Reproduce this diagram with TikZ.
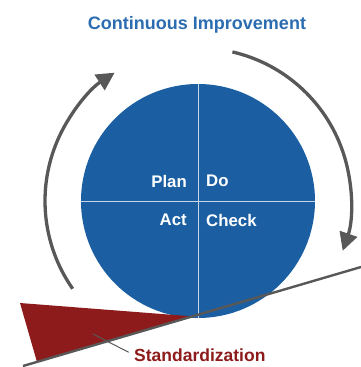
\documentclass[tikz,border=0pt]{standalone}
\usepackage{fontspec}
\setmainfont{Liberation Sans}
\usetikzlibrary{arrows.meta}
\definecolor{pdcablue}{HTML}{1B5FA2}
\definecolor{titleblue}{HTML}{2B6DB0}
\definecolor{stdred}{HTML}{8E1B1B}
\definecolor{arcgray}{HTML}{585858}
\tikzset{
  cyclearc/.style={draw=arcgray, line width=3.3pt, -{Triangle[length=18pt,width=18pt]}},
  quad/.style={text=white, font=\bfseries\fontsize{16.8}{18}\selectfont, inner sep=0pt},
  divider/.style={draw=white!75!pdcablue, line width=0.9pt},
}
\begin{document}
\begin{tikzpicture}[x=1pt,y=-1pt]
\useasboundingbox (0,0) rectangle (361,367);
% title
\node[text=titleblue, font=\bfseries\fontsize{18}{20}\selectfont] (title) at (197,25) {Continuous Improvement};
% arcs (y axis points down, so polar angles are mirrored)
\draw[cyclearc] (198,201) ++(145:153) arc[start angle=145, end angle=237, radius=153];
\draw[cyclearc] (198,201) ++(-77:153) arc[start angle=-77, end angle=19, radius=153];
% circle
\node[circle, fill=pdcablue, minimum size=234pt, inner sep=0pt] (pdca) at (198,201) {};
\draw[divider] (pdca.north) -- (pdca.south);
\draw[divider] (pdca.west) -- (pdca.east);
\node[quad, anchor=east] (plan) at (187,181) {Plan};
\node[quad, anchor=west] (do) at (206,181) {Do};
\node[quad, anchor=east] (act) at (187,220) {Act};
\node[quad, anchor=west] (check) at (206,220) {Check};
% wedge
\coordinate (w1) at (20,303);
\coordinate (w2) at (37,362);
\coordinate (w3) at (194,316.5);
\fill[stdred] (w1) -- (w3) -- (w2) -- cycle;
% ramp
\coordinate (r1) at (23,366);
\coordinate (r2) at (361,267);
\draw[arcgray, line width=2.4pt] (r1) -- (r2);
% label
\node[text=stdred, font=\bfseries\fontsize{17.5}{19}\selectfont, anchor=west, inner sep=0pt] (std) at (134,355) {Standardization};
\coordinate (c1) at (93,334);
\draw[arcgray, line width=1pt, shorten >=6pt] (c1) -- (std.west);
\end{tikzpicture}
\end{document}
